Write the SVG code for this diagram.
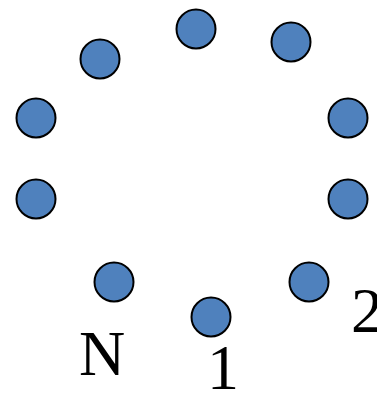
<svg xmlns="http://www.w3.org/2000/svg" width="377" height="393" viewBox="0 0 377 393">
<style>
.n{fill:#4F81BD;stroke:#000;stroke-width:2}
.t{font-family:"Liberation Serif","Times New Roman",serif;font-size:64px;fill:#000}
</style>
<rect width="377" height="393" fill="#fff"/>
<g id="connectors"/>
<g id="n0"><circle class="n" cx="196" cy="29" r="19.5"/></g>
<g id="n1"><circle class="n" cx="291" cy="42" r="19.5"/></g>
<g id="n2"><circle class="n" cx="348" cy="118" r="19.5"/></g>
<g id="n3"><circle class="n" cx="348" cy="199" r="19.5"/></g>
<g id="n4"><circle class="n" cx="309" cy="282" r="19.5"/></g>
<g id="n5"><circle class="n" cx="211" cy="317" r="19.5"/></g>
<g id="n6"><circle class="n" cx="114" cy="282" r="19.5"/></g>
<g id="n7"><circle class="n" cx="36" cy="199" r="19.5"/></g>
<g id="n8"><circle class="n" cx="36" cy="118" r="19.5"/></g>
<g id="n9"><circle class="n" cx="100" cy="59" r="19.5"/></g>
<g id="labels">
<text class="t" x="79" y="375">N</text>
<text class="t" x="207" y="389">1</text>
<text class="t" x="351" y="332">2</text>
</g>
</svg>
